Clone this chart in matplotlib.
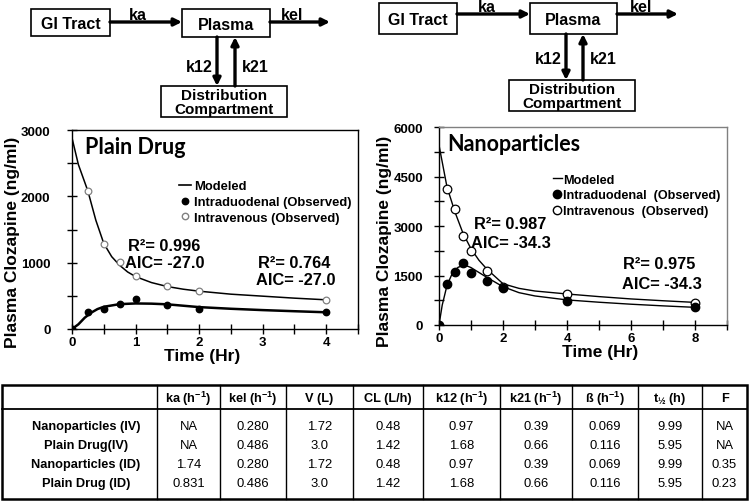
import matplotlib
matplotlib.use("Agg")
import matplotlib.pyplot as plt
from matplotlib.lines import Line2D
from matplotlib.ticker import MultipleLocator

NARROW = ['Liberation Sans Narrow', 'DejaVu Sans Condensed', 'Liberation Sans', 'DejaVu Sans']
plt.rcParams['font.family'] = NARROW
plt.rcParams['font.weight'] = 'bold'
plt.rcParams['mathtext.default'] = 'regular'

ARIAL = ['Liberation Sans', 'DejaVu Sans']
TITLE_FONT = ['Lato', 'Liberation Sans']

# --- observed data ---
plain_t_id = [0, 0.25, 0.5, 0.75, 1, 1.5, 2, 4]
plain_id = [0, 250, 295, 370, 450, 365, 300, 252]
plain_t_iv = [0.25, 0.5, 0.75, 1, 1.5, 2, 4]
plain_iv = [2080, 1275, 1005, 800, 648, 568, 437]

nano_t_id = [0, 0.25, 0.5, 0.75, 1, 1.5, 2, 4, 8]
nano_id = [0, 1255, 1620, 1880, 1590, 1325, 1115, 740, 535]
nano_t_iv = [0.25, 0.5, 0.75, 1, 1.5, 2, 4, 8]
nano_iv = [4120, 3520, 2690, 2230, 1630, 1165, 950, 680]

# --- modeled curves ---
plain_mt_iv = [0, 0.1, 0.25, 0.375, 0.5, 0.625, 0.75, 0.875, 1.0, 1.25, 1.5, 1.75, 2, 2.5, 3, 3.5, 4]
plain_m_iv = [2880, 2480, 2080, 1640, 1290, 1090, 960, 860, 790, 700, 640, 600, 570, 525, 495, 465, 440]
plain_mt_id = [0, 0.1, 0.2, 0.3, 0.4, 0.5, 0.75, 1.0, 1.25, 1.5, 2, 2.5, 3, 3.5, 4]
plain_m_id = [0, 70, 170, 245, 300, 335, 375, 385, 382, 372, 330, 305, 285, 268, 252]

nano_mt_iv = [0, 0.25, 0.5, 0.75, 1, 1.25, 1.5, 2, 2.5, 3, 4, 5, 6, 7, 8]
nano_m_iv = [5450, 4180, 3420, 2780, 2310, 1960, 1690, 1250, 1110, 1030, 940, 860, 790, 735, 685]
nano_mt_id = [0, 0.1, 0.25, 0.4, 0.5, 0.6, 0.75, 0.9, 1, 1.25, 1.5, 2, 2.5, 3, 4, 5, 6, 7, 8]
nano_m_id = [0, 600, 1200, 1530, 1660, 1750, 1800, 1780, 1740, 1590, 1440, 1160, 980, 880, 760, 690, 630, 580, 535]

# --- table ---
col_headers = ['', 'ka (h$^{-1}$)', 'kel (h$^{-1}$)', 'V (L)', 'CL (L/h)', 'k12 (h$^{-1}$)',
               'k21 (h$^{-1}$)', 'ß (h$^{-1}$)', 't$_{½}$ (h)', 'F']
row_names = ['Nanoparticles (IV)', 'Plain Drug(IV)', 'Nanoparticles (ID)', 'Plain Drug (ID)']
table_values = [
    ['NA', '0.280', '1.72', '0.48', '0.97', '0.39', '0.069', '9.99', 'NA'],
    ['NA', '0.486', '3.0', '1.42', '1.68', '0.66', '0.116', '5.95', 'NA'],
    ['1.74', '0.280', '1.72', '0.48', '0.97', '0.39', '0.069', '9.99', '0.35'],
    ['0.831', '0.486', '3.0', '1.42', '1.68', '0.66', '0.116', '5.95', '0.23'],
]

W, H = 750, 502
fig = plt.figure(figsize=(W / 100, H / 100), dpi=100)


def px_axes(l, t, r, b):
    return fig.add_axes([l / W, 1 - b / H, (r - l) / W, (b - t) / H])


def style_axes(ax, frame_col):
    for s in ['left', 'bottom']:
        ax.spines[s].set_color('black')
    for s in ['top', 'right']:
        ax.spines[s].set_color(frame_col)
    for s in ax.spines.values():
        s.set_linewidth(1.0)
    ax.tick_params(which='both', direction='inout', length=7, width=1, labelsize=9.5)


# ---------- left plot ----------
ax1 = px_axes(72, 131, 358, 330)
ax1.plot(plain_mt_iv, plain_m_iv, color='black', lw=1.1, zorder=2)
ax1.plot(plain_mt_id, plain_m_id, color='black', lw=1.8, zorder=2)
ax1.plot(plain_t_iv, plain_iv, 'o', ms=4.8, mfc='white', mec='#808080', mew=0.9, zorder=3)
ax1.plot(plain_t_id, plain_id, 'o', ms=4.6, mfc='black', mec='black', zorder=3)
ax1.set_xlim(0, 4.5)
ax1.set_ylim(0, 3000)
ax1.xaxis.set_major_locator(MultipleLocator(1))
ax1.xaxis.set_minor_locator(MultipleLocator(0.5))
ax1.yaxis.set_major_locator(MultipleLocator(1000))
ax1.yaxis.set_minor_locator(MultipleLocator(500))
style_axes(ax1, 'black')
ax1.tick_params(axis='y', pad=12)
ax1.tick_params(axis='x', pad=1.5)
ax1.text(0.045, 0.915, 'Plain Drug', transform=ax1.transAxes, family=TITLE_FONT,
         fontsize=15.5, fontweight='bold', va='center')
h1 = [Line2D([], [], color='black', lw=1.2),
      Line2D([], [], ls='', marker='o', ms=4.6, mfc='black', mec='black'),
      Line2D([], [], ls='', marker='o', ms=4.6, mfc='white', mec='#808080')]
ax1.legend(h1, ['Modeled', 'Intraduodenal (Observed)', 'Intravenous (Observed)'],
           loc='upper left', bbox_to_anchor=(0.375, 0.748), frameon=False,
           handlelength=0.9, handletextpad=0.25, labelspacing=0.28, borderpad=0,
           borderaxespad=0, prop={'family': ARIAL, 'weight': 'bold', 'size': 9.4})
ax1.text(0.88, 1260, 'R²= 0.996', family=ARIAL, fontsize=11.8, fontweight='bold', va='center')
ax1.text(0.83, 1000, 'AIC= -27.0', family=ARIAL, fontsize=11.8, fontweight='bold', va='center')
ax1.text(2.92, 1000, 'R²= 0.764', family=ARIAL, fontsize=11.8, fontweight='bold', va='center')
ax1.text(2.89, 750, 'AIC= -27.0', family=ARIAL, fontsize=11.8, fontweight='bold', va='center')

# ---------- right plot ----------
ax2 = px_axes(439, 128, 727, 326)
ax2.plot(nano_mt_iv, nano_m_iv, color='black', lw=1.0, zorder=2)
ax2.plot(nano_mt_id, nano_m_id, color='black', lw=1.0, zorder=2)
ax2.plot(nano_t_iv, nano_iv, 'o', ms=6.2, mfc='white', mec='black', mew=0.9, zorder=3)
ax2.plot(nano_t_id, nano_id, 'o', ms=6.0, mfc='black', mec='black', zorder=3)
ax2.set_xlim(0, 9)
ax2.set_ylim(0, 6000)
ax2.xaxis.set_major_locator(MultipleLocator(2))
ax2.xaxis.set_minor_locator(MultipleLocator(1))
ax2.yaxis.set_major_locator(MultipleLocator(1500))
ax2.yaxis.set_minor_locator(MultipleLocator(750))
style_axes(ax2, '#808080')
ax2.tick_params(axis='y', pad=8)
ax2.tick_params(axis='x', pad=1.5)
ax2.text(0.03, 0.915, 'Nanoparticles', transform=ax2.transAxes, family=TITLE_FONT,
         fontsize=15.5, fontweight='bold', va='center')
h2 = [Line2D([], [], color='black', lw=1.0),
      Line2D([], [], ls='', marker='o', ms=6, mfc='black', mec='black'),
      Line2D([], [], ls='', marker='o', ms=6, mfc='white', mec='black')]
ax2.legend(h2, ['Modeled', 'Intraduodenal  (Observed)', 'Intravenous  (Observed)'],
           loc='upper left', bbox_to_anchor=(0.395, 0.765), frameon=False,
           handlelength=0.7, handletextpad=0.1, labelspacing=0.3, borderpad=0,
           borderaxespad=0, prop={'family': ARIAL, 'weight': 'bold', 'size': 9.1})
ax2.text(1.1, 3080, 'R²= 0.987', family=ARIAL, fontsize=11.8, fontweight='bold', va='center')
ax2.text(1.0, 2500, 'AIC= -34.3', family=ARIAL, fontsize=11.8, fontweight='bold', va='center')
ax2.text(5.75, 1860, 'R²= 0.975', family=ARIAL, fontsize=11.8, fontweight='bold', va='center')
ax2.text(5.72, 1250, 'AIC= -34.3', family=ARIAL, fontsize=11.8, fontweight='bold', va='center')

# ---------- overlay: diagrams, axis titles, table ----------
ov = fig.add_axes([0, 0, 1, 1], zorder=-1)
ov.set_xlim(0, W)
ov.set_ylim(H, 0)
ov.axis('off')

ov.text(13, 242, 'Plasma Clozapine (ng/ml)', rotation=90, family=ARIAL, fontsize=12.5,
        fontweight='bold', ha='center', va='center')
ov.text(385, 241, 'Plasma Clozapine (ng/ml)', rotation=90, family=ARIAL, fontsize=12.5,
        fontweight='bold', ha='center', va='center')
ov.text(202, 357, 'Time (Hr)', fontsize=12.5, ha='center', va='center')
ov.text(600, 353, 'Time (Hr)', fontsize=12.5, ha='center', va='center')


def box(x0, y0, x1, y1):
    ov.add_patch(plt.Rectangle((x0, y0), x1 - x0, y1 - y0, fill=False, ec='black', lw=1.2))


def arrow(x0, y0, x1, y1):
    ov.annotate('', xy=(x1, y1), xytext=(x0, y0),
                arrowprops=dict(arrowstyle='-|>', lw=2.4, color='black', mutation_scale=11,
                                shrinkA=0, shrinkB=0))


def diagram(g):
    box(*g['gi'])
    box(*g['pl'])
    box(*g['dc'])
    gi, pl, dc = g['gi'], g['pl'], g['dc']
    kw = dict(family=ARIAL, fontsize=11.5, fontweight='bold', va='center')
    ov.text((gi[0] + gi[2]) / 2, (gi[1] + gi[3]) / 2 + 1, 'GI Tract', ha='center', **kw)
    ov.text((pl[0] + pl[2]) / 2, (pl[1] + pl[3]) / 2 + 1, 'Plasma', ha='center', **kw)
    ov.text((dc[0] + dc[2]) / 2, g['dy'][0], 'Distribution', ha='center',
            family=ARIAL, fontsize=11, fontweight='bold', va='center')
    ov.text((dc[0] + dc[2]) / 2, g['dy'][1], 'Compartment', ha='center',
            family=ARIAL, fontsize=11, fontweight='bold', va='center')
    ay = g['ay']
    arrow(gi[2], ay, pl[0], ay)
    arrow(pl[2], ay, g['kel_end'], ay)
    arrow(g['vx'][0], pl[3], g['vx'][0], dc[1])
    arrow(g['vx'][1], dc[1], g['vx'][1], pl[3])
    ov.text(g['ka'][0], g['ka'][1], 'ka', ha='center', **kw)
    ov.text(g['kel'][0], g['kel'][1], 'kel', ha='center', **kw)
    ov.text(g['k12'][0], g['k12'][1], 'k12', ha='right', **kw)
    ov.text(g['k21'][0], g['k21'][1], 'k21', ha='left', **kw)


diagram(dict(gi=(31, 10, 110, 37), pl=(182, 10, 270, 38), dc=(161, 87, 287, 118),
             dy=(95.5, 110), ay=23, kel_end=330, vx=(217, 235),
             ka=(138, 15), kel=(292, 15), k12=(213, 67), k21=(242, 67)))
diagram(dict(gi=(379, 4, 457, 35), pl=(530, 4, 617, 35), dc=(509, 81, 635, 112),
             dy=(89.5, 104), ay=15, kel_end=678, vx=(566, 583),
             ka=(487, 8), kel=(641, 8), k12=(562, 60), k21=(590, 60)))

# table
col_x = [2, 157, 220, 286, 353, 423, 500, 572, 638, 702, 747]
t_top, t_head, t_bot = 386, 410, 500
row_y = [427, 446, 465, 484]

ov.add_patch(plt.Rectangle((col_x[0], t_top), col_x[-1] - col_x[0], t_bot - t_top,
                           fill=False, ec='black', lw=1.8))
ov.plot([col_x[0], col_x[-1]], [t_head, t_head], color='black', lw=1.3)
for cx in col_x[1:-1]:
    ov.plot([cx, cx], [t_top, t_bot], color='black', lw=1.0)

for j, hdr in enumerate(col_headers):
    cx = (col_x[j] + col_x[j + 1]) / 2
    ov.text(cx, (t_top + t_head) / 2 + 1, hdr, family=ARIAL, fontsize=9.2,
            fontweight='bold', ha='center', va='center')
for i, name in enumerate(row_names):
    ov.text(86, row_y[i], name, family=ARIAL, fontsize=9.2, fontweight='bold',
            ha='center', va='center')
    for j, val in enumerate(table_values[i]):
        cx = (col_x[j + 1] + col_x[j + 2]) / 2
        ov.text(cx, row_y[i], val, family=ARIAL, fontsize=9.4, fontweight='normal',
                ha='center', va='center')

fig.savefig('out.png', dpi=100)
